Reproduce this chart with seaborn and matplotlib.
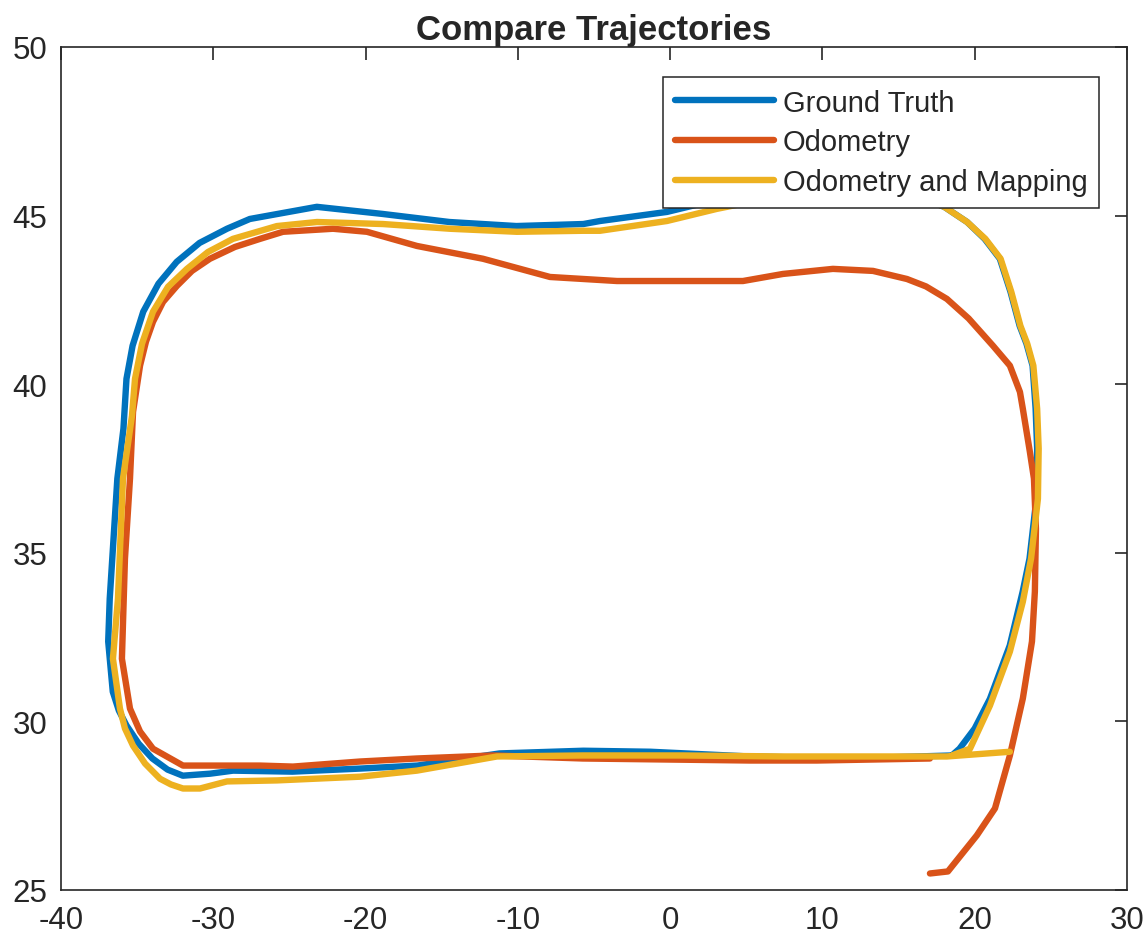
import numpy as np
import pandas as pd
import seaborn as sns
import matplotlib
matplotlib.use('Agg')
import matplotlib.pyplot as plt

# trajectories
gt_x = [18.5, 19.0, 20.0, 21.0, 22.3, 23.15, 23.6, 24.05, 24.1, 24.0, 23.8, 23.4, 22.95, 22.35,
        21.65, 20.65, 19.5, 18.0, 16.2, 12.0, 8.0, 4.1, -0.2, -4.6, -5.7, -10.1, -14.5, -18.9,
        -23.2, -27.6, -29.1, -30.9, -32.4, -33.6, -34.6, -35.3, -35.7, -35.9, -36.3, -36.8,
        -36.9, -36.6, -36.2, -35.7, -34.9, -34.0, -33.0, -32.0, -30.2, -28.7, -24.8, -20.4,
        -16.6, -11.2, -5.7, -1.3, 5.2, 11.8, 18.5]
gt_y = [28.99, 29.19, 29.79, 30.67, 32.25, 33.85, 34.83, 36.6, 38.09, 39.27, 40.55, 41.2, 41.73,
        42.74, 43.72, 44.31, 44.81, 45.26, 45.58, 45.8, 45.75, 45.58, 45.11, 44.84, 44.75, 44.69,
        44.81, 45.05, 45.26, 44.9, 44.61, 44.19, 43.63, 42.98, 42.15, 41.14, 40.16, 38.68,
        37.2, 33.64, 32.37, 30.88, 30.32, 29.88, 29.34, 28.9, 28.57, 28.39, 28.45, 28.54,
        28.51, 28.6, 28.69, 29.05, 29.13, 29.1, 28.96, 28.9, 28.99]

odo_x = [17.06, 18.24, 20.14, 21.33, 22.31, 23.16, 23.76, 23.95, 24.02, 23.89, 23.62, 23.16,
         22.97, 22.31, 21.2, 19.6, 18.17, 16.8, 15.55, 13.32, 10.69, 7.41, 4.78, 1.96, -3.49,
         -7.89, -12.29, -16.63, -19.91, -22.14, -25.42, -26.93, -28.58, -30.22, -31.4, -32.38,
         -33.3, -33.96, -34.42, -34.81, -35.27, -35.47, -35.8, -36.0, -35.47, -34.81, -33.96,
         -31.99, -26.93, -24.77, -20.37, -16.63, -11.64, -5.73, 5.24, 9.64, 17.06]
odo_y = [25.49, 25.55, 26.62, 27.42, 28.99, 30.68, 32.37, 33.85, 35.71, 37.2, 38.0, 39.27,
         39.77, 40.55, 41.14, 41.95, 42.53, 42.9, 43.12, 43.36, 43.42, 43.27, 43.06, 43.06, 43.06,
         43.18, 43.72, 44.1, 44.52, 44.61, 44.52, 44.31, 44.07, 43.72, 43.36, 42.92,
         42.44, 41.85, 41.26, 40.55, 39.18, 37.2, 34.83, 31.86, 30.38, 29.7, 29.19,
         28.69, 28.69, 28.66, 28.81, 28.9, 28.99, 28.9, 28.84, 28.84, 28.9]

map_x = [18.5, 19.69, 21.0, 22.31, 23.16, 23.7, 24.15, 24.2, 24.1, 23.85, 23.45, 23.0, 22.4,
         21.7, 20.7, 19.5, 18.0, 16.2, 12.0, 8.0, 6.36, 3.07, -0.21, -4.61, -5.73, -10.06,
         -14.46, -18.86, -23.19, -25.82, -28.71, -30.35, -31.73, -32.97, -33.96, -34.68, -35.14,
         -35.34, -35.93, -36.26, -36.59, -36.13, -35.8, -35.27, -34.48, -33.5, -32.78, -31.99,
         -30.87, -29.1, -25.82, -20.37, -16.63, -11.37, -5.73, 0.84, 7.41, 12.92, 18.17, 22.31]
map_y = [28.99, 29.19, 30.47, 32.07, 33.55, 34.83, 36.6, 38.09, 39.27, 40.55, 41.2, 41.73, 42.74,
         43.72, 44.31, 44.81, 45.26, 45.58, 45.75, 45.55, 45.5, 45.2, 44.84, 44.55, 44.55, 44.52,
         44.61, 44.75, 44.81, 44.69, 44.31, 43.92, 43.42, 42.89, 42.15, 41.2, 40.16,
         39.06, 37.2, 33.64, 31.86, 30.38, 29.79, 29.28, 28.75, 28.3, 28.13, 28.01,
         28.01, 28.22, 28.25, 28.36, 28.54, 28.96, 28.99, 28.99, 28.96, 28.96, 28.96, 29.1]

names = ['Ground Truth', 'Odometry', 'Odometry and Mapping']
colors = ['#0072BD', '#D95319', '#EDB120']

sns.set_style('white')
plt.rcParams['font.family'] = ['Liberation Sans', 'DejaVu Sans']
plt.rcParams['axes.unicode_minus'] = False

fig = plt.figure(figsize=(11.48, 9.45), dpi=100)
ax = fig.add_axes([61 / 1148, 1 - 891 / 945, 1066 / 1148, 843 / 945])

for xs, ys, name, c in zip([gt_x, odo_x, map_x], [gt_y, odo_y, map_y], names, colors):
    df = pd.DataFrame({'x': xs, 'y': ys})
    sns.lineplot(data=df, x='x', y='y', sort=False, estimator=None, color=c,
                 linewidth=4.6, label=name, ax=ax)

ax.set_xlim(-40, 30)
ax.set_ylim(25, 50)
ax.set_xticks(np.arange(-40, 31, 10))
ax.set_yticks(np.arange(25, 51, 5))
ax.set_xlabel('')
ax.set_ylabel('')
ax.tick_params(direction='in', length=9, width=1.2, colors='#262626', labelsize=22.5,
               top=True, right=True)
ax.tick_params(axis='x', pad=11)
ax.tick_params(axis='y', pad=10)
for sp in ax.spines.values():
    sp.set_color('#262626')
    sp.set_linewidth(1.2)
ax.set_title('Compare Trajectories', fontsize=25, fontweight='bold', pad=6)

leg = ax.legend(loc='upper right', bbox_to_anchor=(0.974, 0.9644), borderaxespad=0,
                fontsize=21, frameon=True, fancybox=False, handlelength=3.4, borderpad=0.4,
                labelspacing=0.4, handletextpad=0.3)
leg.get_frame().set_edgecolor('#262626')
leg.get_frame().set_linewidth(1.1)
leg.get_frame().set_alpha(1)

fig.savefig('out.png', dpi=100)
